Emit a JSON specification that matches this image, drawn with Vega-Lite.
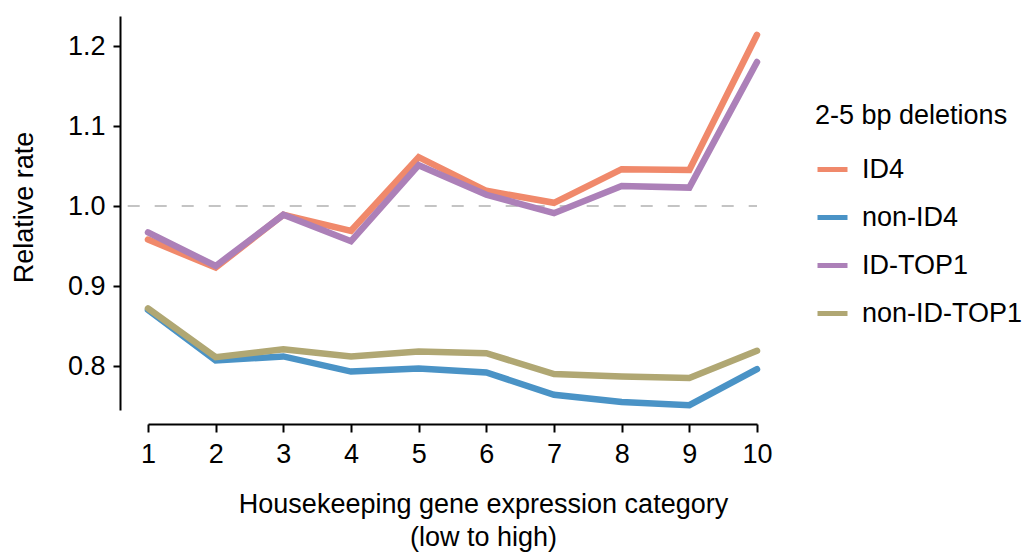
{
  "$schema": "https://vega.github.io/schema/vega-lite/v6.json",
  "width": 609,
  "height": 394,
  "autosize": "none",
  "padding": {"left": 148, "top": 16, "right": 267, "bottom": 142},
  "background": "white",
  "config": {
    "view": {"stroke": null},
    "font": "Liberation Sans",
    "axis": {"labelFont": "Liberation Sans", "titleFont": "Liberation Sans", "labelColor": "black", "titleColor": "black", "domainColor": "black", "tickColor": "black", "grid": false, "domainWidth": 2, "tickWidth": 2, "labelFontSize": 27, "titleFontSize": 27, "titleFontWeight": "normal", "labelFlush": false},
    "legend": {"labelFont": "Liberation Sans", "titleFont": "Liberation Sans"}
  },
  "datasets": {
    "rates": [
      {"category": 1, "series": "ID4", "rate": 0.958},
      {"category": 2, "series": "ID4", "rate": 0.923},
      {"category": 3, "series": "ID4", "rate": 0.989},
      {"category": 4, "series": "ID4", "rate": 0.969},
      {"category": 5, "series": "ID4", "rate": 1.061},
      {"category": 6, "series": "ID4", "rate": 1.019},
      {"category": 7, "series": "ID4", "rate": 1.004},
      {"category": 8, "series": "ID4", "rate": 1.046},
      {"category": 9, "series": "ID4", "rate": 1.045},
      {"category": 10, "series": "ID4", "rate": 1.214},
      {"category": 1, "series": "non-ID4", "rate": 0.870},
      {"category": 2, "series": "non-ID4", "rate": 0.807},
      {"category": 3, "series": "non-ID4", "rate": 0.812},
      {"category": 4, "series": "non-ID4", "rate": 0.793},
      {"category": 5, "series": "non-ID4", "rate": 0.797},
      {"category": 6, "series": "non-ID4", "rate": 0.792},
      {"category": 7, "series": "non-ID4", "rate": 0.764},
      {"category": 8, "series": "non-ID4", "rate": 0.755},
      {"category": 9, "series": "non-ID4", "rate": 0.751},
      {"category": 10, "series": "non-ID4", "rate": 0.796},
      {"category": 1, "series": "ID-TOP1", "rate": 0.967},
      {"category": 2, "series": "ID-TOP1", "rate": 0.925},
      {"category": 3, "series": "ID-TOP1", "rate": 0.989},
      {"category": 4, "series": "ID-TOP1", "rate": 0.956},
      {"category": 5, "series": "ID-TOP1", "rate": 1.051},
      {"category": 6, "series": "ID-TOP1", "rate": 1.014},
      {"category": 7, "series": "ID-TOP1", "rate": 0.991},
      {"category": 8, "series": "ID-TOP1", "rate": 1.025},
      {"category": 9, "series": "ID-TOP1", "rate": 1.023},
      {"category": 10, "series": "ID-TOP1", "rate": 1.180},
      {"category": 1, "series": "non-ID-TOP1", "rate": 0.872},
      {"category": 2, "series": "non-ID-TOP1", "rate": 0.811},
      {"category": 3, "series": "non-ID-TOP1", "rate": 0.821},
      {"category": 4, "series": "non-ID-TOP1", "rate": 0.812},
      {"category": 5, "series": "non-ID-TOP1", "rate": 0.818},
      {"category": 6, "series": "non-ID-TOP1", "rate": 0.816},
      {"category": 7, "series": "non-ID-TOP1", "rate": 0.790},
      {"category": 8, "series": "non-ID-TOP1", "rate": 0.787},
      {"category": 9, "series": "non-ID-TOP1", "rate": 0.785},
      {"category": 10, "series": "non-ID-TOP1", "rate": 0.819}
    ],
    "reference": [
      {"start": 0.7, "end": 10, "rate": 1.0}
    ]
  },
  "layer": [
    {
      "data": {"name": "reference"},
      "mark": {"type": "rule", "color": "#c4c4c4", "strokeWidth": 2, "strokeDash": [12, 15], "clip": false},
      "encoding": {
        "x": {"field": "start", "type": "quantitative"},
        "x2": {"field": "end"},
        "y": {"field": "rate", "type": "quantitative"}
      }
    },
    {
      "data": {"name": "rates"},
      "mark": {"type": "line", "strokeWidth": 6.5, "strokeCap": "round", "strokeJoin": "miter"},
      "encoding": {
        "x": {
          "field": "category", "type": "quantitative",
          "scale": {"domain": [1, 10], "nice": false, "zero": false},
          "axis": {"values": [1,2,3,4,5,6,7,8,9,10], "format": "d", "offset": 14, "tickSize": 8, "labelPadding": 9, "title": ["Housekeeping gene expression category", "(low to high)"], "titlePadding": 24, "titleLineHeight": 33, "titleX": 335}
        },
        "y": {
          "field": "rate", "type": "quantitative",
          "scale": {"domain": [0.745, 1.2375], "nice": false, "zero": false},
          "axis": {"values": [0.8, 0.9, 1.0, 1.1, 1.2], "format": ".1f", "offset": 28, "tickSize": 7, "labelPadding": 8, "title": "Relative rate", "titlePadding": 29, "titleY": 191}
        },
        "color": {
          "field": "series", "type": "nominal",
          "scale": {"domain": ["ID4", "non-ID4", "ID-TOP1", "non-ID-TOP1"], "range": ["#F0896B", "#4A93C6", "#AC80B8", "#B0A773"]},
          "legend": {"title": "2-5 bp deletions", "orient": "none", "legendX": 667, "legendY": 87, "titleFontSize": 27, "titleFontWeight": "normal", "titleColor": "black", "titleLimit": 400, "labelLimit": 400, "labelFontSize": 27, "labelColor": "black", "symbolType": "stroke", "symbolSize": 900, "symbolStrokeWidth": 5, "rowPadding": 17, "titlePadding": 22, "labelOffset": 12}
        },
        "order": {"field": "category"}
      }
    }
  ]
}
